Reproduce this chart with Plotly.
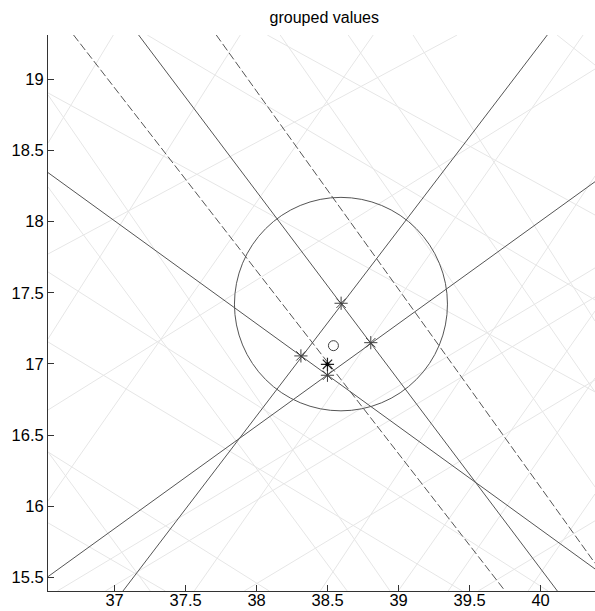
import plotly.graph_objects as go

# Background bearing lines (light gray), each given by its two end points
bg_x0 = [36.531, 36.531, 36.531, 37.561, 38.166, 38.645, 39.102, 36.531, 37.230, 40.116,
         38.075, 36.531, 36.531, 36.531, 36.531, 36.531, 36.531, 36.531, 36.531, 36.531,
         39.349, 36.597, 38.448, 38.997, 36.935, 37.913, 39.912, 39.560]
bg_y0 = [18.552, 17.175, 16.037, 15.404, 19.311, 19.311, 19.311, 18.904, 19.311, 19.311,
         19.311, 18.890, 18.243, 16.381, 17.154, 16.381, 15.883, 17.772, 16.676, 17.646,
         15.404, 15.404, 15.404, 15.404, 15.404, 15.404, 15.404, 15.404]
bg_x1 = [36.991, 37.885, 38.821, 40.299, 40.383, 40.383, 40.383, 40.383, 40.383, 40.383,
         40.383, 38.940, 38.638, 37.251, 39.448, 38.089, 37.357, 39.412, 40.383, 40.053,
         40.383, 40.383, 40.383, 40.383, 40.383, 40.383, 40.383, 40.383]
bg_y1 = [19.311, 19.311, 19.311, 19.311, 16.135, 16.803, 17.301, 16.803, 17.449, 19.100,
         18.046, 15.404, 15.404, 15.404, 15.404, 15.404, 15.404, 19.311, 19.072, 15.404,
         16.901, 17.674, 18.320, 17.371, 17.470, 16.887, 16.086, 15.897]

# Selected lines (solid)
sel_x0 = [36.531, 36.531, 37.059, 37.169]
sel_y0 = [18.344, 15.505, 15.404, 19.311]
sel_x1 = [40.383, 40.383, 40.047, 40.118]
sel_y1 = [15.559, 18.280, 19.311, 15.404]

# Bound lines (dashed)
bnd_x0 = [36.711, 37.716]
bnd_y0 = [19.311, 19.311]
bnd_x1 = [39.750, 40.383]
bnd_y1 = [15.404, 15.599]

# Intersections of the selected lines
cross_x = [38.312, 38.499, 38.595, 38.804]
cross_y = [17.056, 16.920, 17.426, 17.149]

# Mean intersection and estimated position
mean_x, mean_y = 38.499, 16.997
est_x, est_y = 38.541, 17.128

# Error circle
circ_cx, circ_cy, circ_r = 38.594, 17.420, 0.750

x_range = [36.531, 40.383]
y_range = [15.404, 19.311]
x_ticks = [37, 37.5, 38, 38.5, 39, 39.5, 40]
y_ticks = [15.5, 16, 16.5, 17, 17.5, 18, 18.5, 19]

FONT = "Liberation Sans, Arial, sans-serif"

fig = go.Figure()


def add_segments(xs0, ys0, xs1, ys1, color, dash="solid"):
    xs, ys = [], []
    for a, b, c, d in zip(xs0, ys0, xs1, ys1):
        xs += [a, c, None]
        ys += [b, d, None]
    fig.add_trace(go.Scatter(x=xs, y=ys, mode="lines", hoverinfo="skip",
                             line=dict(color=color, width=1, dash=dash),
                             showlegend=False))


add_segments(bg_x0, bg_y0, bg_x1, bg_y1, "#e6e6e6")
add_segments(sel_x0, sel_y0, sel_x1, sel_y1, "#555555")
add_segments(bnd_x0, bnd_y0, bnd_x1, bnd_y1, "#555555", dash="8px,3px")

fig.add_shape(type="circle", xref="x", yref="y",
              x0=circ_cx - circ_r, x1=circ_cx + circ_r,
              y0=circ_cy - circ_r, y1=circ_cy + circ_r,
              line=dict(color="#555555", width=1))

fig.add_trace(go.Scatter(x=cross_x, y=cross_y, mode="markers", showlegend=False,
                         marker=dict(symbol="asterisk-open", size=11,
                                     color="#404040",
                                     line=dict(color="#404040", width=1))))
fig.add_trace(go.Scatter(x=[mean_x], y=[mean_y], mode="markers", showlegend=False,
                         marker=dict(symbol="asterisk-open", size=11,
                                     color="#202020",
                                     line=dict(color="#202020", width=1.2))))
fig.add_trace(go.Scatter(x=[mean_x], y=[mean_y], mode="markers", showlegend=False,
                         marker=dict(symbol="circle", size=4, color="#000000",
                                     line=dict(width=0))))
fig.add_trace(go.Scatter(x=[est_x], y=[est_y], mode="markers", showlegend=False,
                         marker=dict(symbol="circle-open", size=10,
                                     color="#404040",
                                     line=dict(color="#404040", width=1))))

axis_common = dict(showgrid=False, zeroline=False, showline=True,
                   linecolor="#333333", linewidth=1, ticks="inside",
                   ticklen=6, tickcolor="#333333", mirror=False,
                   automargin=False,
                   tickfont=dict(family=FONT, size=16.5, color="#000000"))

fig.update_xaxes(range=x_range, tickvals=x_ticks,
                 ticktext=[f"{v:g}" for v in x_ticks],
                 ticklabelstandoff=-6, **axis_common)
fig.update_yaxes(range=y_range, tickvals=y_ticks,
                 ticktext=[f"{v:g}" for v in y_ticks],
                 ticklabelstandoff=0, **axis_common)

fig.update_layout(
    width=595, height=611,
    margin=dict(l=48, r=0, t=35, b=20),
    paper_bgcolor="white", plot_bgcolor="white",
    title=dict(text="grouped values", x=0.545, xanchor="center", y=0.971,
               yanchor="middle",
               font=dict(family=FONT, size=16, color="#000000")),
)

fig.write_html("out.html")
